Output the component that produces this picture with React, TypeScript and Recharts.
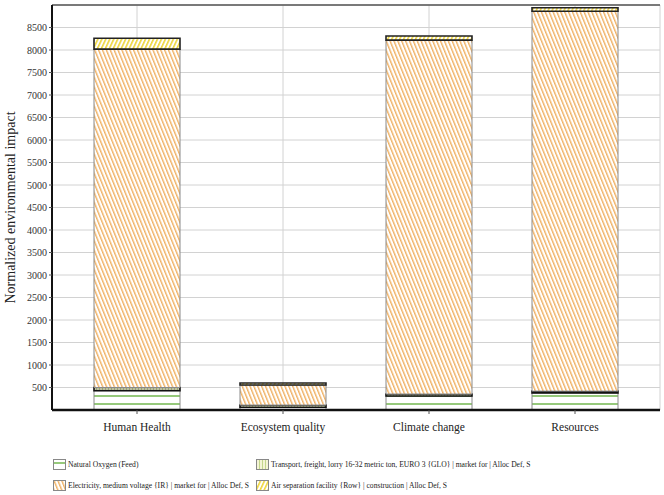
import React from 'react';
import { BarChart, Bar, XAxis, YAxis, CartesianGrid, ReferenceLine } from 'recharts';

// impact categories
const categories = ['Human Health', 'Ecosystem quality', 'Climate change', 'Resources'];

// stacked contributions, bottom to top
const naturalOxygen = [430, 60, 310, 380];
const transport = [70, 50, 45, 40];
const electricity = [7520, 445, 7865, 8440];
const airSeparation = [240, 45, 90, 80];

const yTicks = [500, 1000, 1500, 2000, 2500, 3000, 3500, 4000, 4500, 5000, 5500, 6000, 6500, 7000, 7500, 8000, 8500];

const serif = '"Liberation Serif", "Times New Roman", serif';

const series = [
  { key: 'oxygen', name: 'Natural Oxygen (Feed)', pattern: 'patOxy', stroke: '#8a8a8a', width: 1 },
  { key: 'transport', name: 'Transport, freight, lorry 16-32 metric ton, EURO 3 {GLO} | market for | Alloc Def, S', pattern: 'patTrans', stroke: '#111', width: 1.6 },
  { key: 'electricity', name: 'Electricity, medium voltage {IR} | market for | Alloc Def, S', pattern: 'patElec', stroke: '#8a8a8a', width: 1 },
  { key: 'air', name: 'Air separation facility {Row} | construction | Alloc Def, S', pattern: 'patAir', stroke: '#222', width: 1.6 }
];

const data = categories.map((c, i) => ({
  name: c,
  oxygen: naturalOxygen[i],
  transport: transport[i],
  electricity: electricity[i],
  air: airSeparation[i]
}));

const Patterns = () => (
  <defs>
    <pattern id="patOxy" patternUnits="userSpaceOnUse" width="8" height="8">
      <rect width="8" height="8" fill="#ffffff" />
      <rect y="3.25" width="8" height="1.5" fill="#74b84f" />
    </pattern>
    <pattern id="patTrans" patternUnits="userSpaceOnUse" width="3" height="3">
      <rect width="3" height="3" fill="#f4f4d6" />
      <rect width="1" height="3" fill="#c3d68c" />
    </pattern>
    <pattern id="patElec" patternUnits="userSpaceOnUse" width="3.6" height="4" patternTransform="rotate(-22)">
      <rect width="3.6" height="4" fill="#ffffff" />
      <rect width="1.4" height="4" fill="#f0b062" />
    </pattern>
    <pattern id="patAir" patternUnits="userSpaceOnUse" width="3.6" height="4" patternTransform="rotate(25)">
      <rect width="3.6" height="4" fill="#ffffff" />
      <rect width="1.6" height="4" fill="#efd63c" />
    </pattern>
  </defs>
);

const XTick = (props: any) => {
  const { x, y, payload } = props;
  return (
    <text x={x} y={y + 13} textAnchor="middle" fontFamily={serif} fontSize={11.5} fill="#222">
      {payload.value}
    </text>
  );
};

const YTick = (props: any) => {
  const { x, y, payload } = props;
  return (
    <text x={x} y={y + 3.5} textAnchor="end" fontFamily={serif} fontSize={10} fill="#333">
      {payload.value}
    </text>
  );
};

const legendPos = [
  { left: 53, top: 459 },
  { left: 256, top: 459 },
  { left: 53, top: 480 },
  { left: 256, top: 480 }
];

const App: React.FC = () => {
  return (
    <div style={{ position: 'absolute', left: 0, top: 0, width: 664, height: 495, background: '#fff', fontFamily: serif }}>
      <BarChart
        width={664}
        height={495}
        data={data}
        margin={{ top: 5, right: 4, left: 0, bottom: 55 }}
        barSize={86}
      >
        <Patterns />
        <CartesianGrid stroke="#d2d2d2" strokeWidth={1} />
        <XAxis
          dataKey="name"
          padding={{ left: 12, right: 12 }}
          height={30}
          axisLine={{ stroke: '#111', strokeWidth: 2.5 }}
          tickLine={{ stroke: '#555' }}
          tickSize={4}
          tickMargin={4}
          tick={<XTick />}
          interval={0}
        />
        <YAxis
          width={52}
          domain={[0, 9000]}
          ticks={yTicks}
          interval={0}
          allowDataOverflow
          axisLine={{ stroke: '#111', strokeWidth: 2 }}
          tickLine={{ stroke: '#555' }}
          tickSize={3}
          tickMargin={2}
          tick={<YTick />}
          label={{
            value: 'Normalized environmental impact',
            angle: -90,
            position: 'insideLeft',
            offset: 10,
            style: { textAnchor: 'middle', fontSize: 14, fill: '#222', fontFamily: serif }
          }}
        />
        <YAxis
          yAxisId="frame"
          orientation="right"
          width={0}
          domain={[0, 9000]}
          tick={false}
          tickLine={false}
          axisLine={{ stroke: '#777', strokeWidth: 1.5 }}
        />
        <ReferenceLine y={9000} stroke="#555" strokeWidth={1.5} />
        {series.map(s => (
          <Bar
            key={s.key}
            dataKey={s.key}
            name={s.name}
            stackId="a"
            fill={`url(#${s.pattern})`}
            stroke={s.stroke}
            strokeWidth={s.width}
            isAnimationActive={false}
          />
        ))}
      </BarChart>
      {series.map((s, i) => (
        <div
          key={s.key}
          style={{
            position: 'absolute',
            left: legendPos[i].left,
            top: legendPos[i].top,
            display: 'flex',
            alignItems: 'center',
            fontSize: 7.6,
            color: '#222',
            whiteSpace: 'nowrap'
          }}
        >
          <svg width={13} height={11} style={{ marginRight: 2 }}>
            <rect x={0.5} y={0.5} width={12} height={10} fill={`url(#${s.pattern})`} stroke="#888" />
          </svg>
          <span>{s.name}</span>
        </div>
      ))}
    </div>
  );
};

export default App;
